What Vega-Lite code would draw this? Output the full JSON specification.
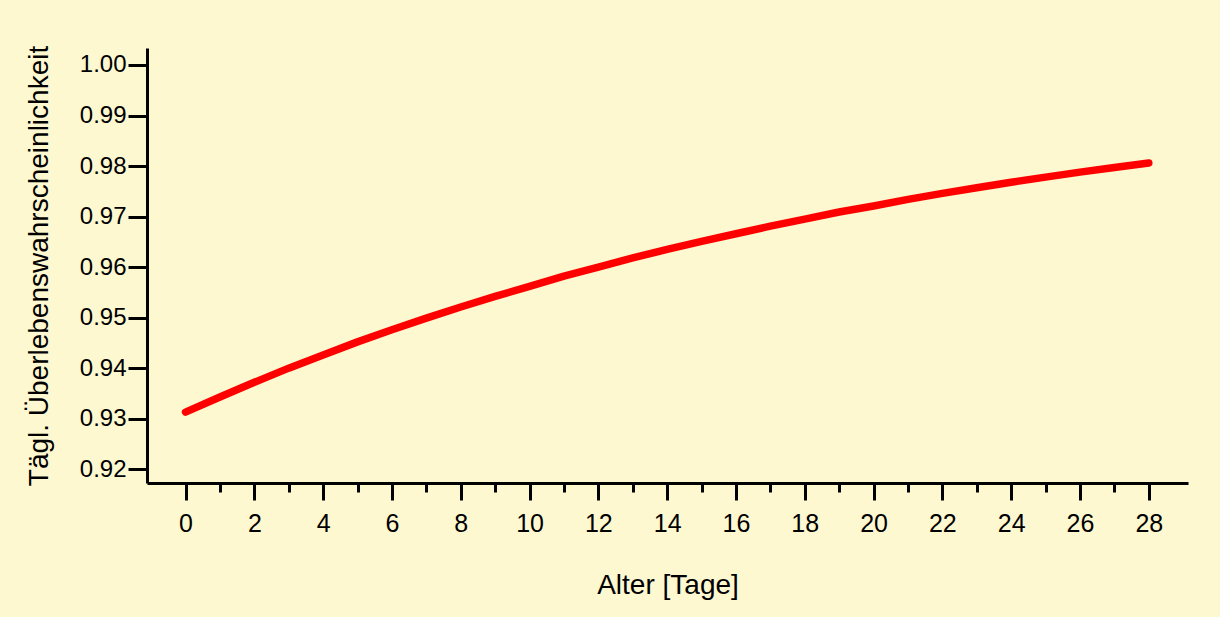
{
  "$schema": "https://vega.github.io/schema/vega-lite/v6.json",
  "autosize": {"type": "none"},
  "width": 1041,
  "height": 435,
  "padding": {"left": 147, "top": 48, "right": 32, "bottom": 134},
  "background": "#FEF8D1",
  "config": {
    "view": {"stroke": null},
    "font": "Liberation Sans",
    "axis": {
      "grid": false,
      "domainColor": "black",
      "domainWidth": 3,
      "tickColor": "black",
      "tickWidth": 3,
      "labelColor": "black",
      "titleColor": "black",
      "titleFontWeight": "normal",
      "labelFont": "Liberation Sans",
      "titleFont": "Liberation Sans"
    }
  },
  "data": {
    "values": [
      {"alter": 0, "p": 0.9313},
      {"alter": 1, "p": 0.9343},
      {"alter": 2, "p": 0.9372},
      {"alter": 3, "p": 0.94},
      {"alter": 4, "p": 0.9426},
      {"alter": 5, "p": 0.9452},
      {"alter": 6, "p": 0.9476},
      {"alter": 7, "p": 0.9499},
      {"alter": 8, "p": 0.9521},
      {"alter": 9, "p": 0.9542},
      {"alter": 10, "p": 0.9562},
      {"alter": 11, "p": 0.9582},
      {"alter": 12, "p": 0.96},
      {"alter": 13, "p": 0.9618},
      {"alter": 14, "p": 0.9635},
      {"alter": 15, "p": 0.9651},
      {"alter": 16, "p": 0.9666},
      {"alter": 17, "p": 0.9681},
      {"alter": 18, "p": 0.9695},
      {"alter": 19, "p": 0.9709},
      {"alter": 20, "p": 0.9721},
      {"alter": 21, "p": 0.9734},
      {"alter": 22, "p": 0.9746},
      {"alter": 23, "p": 0.9757},
      {"alter": 24, "p": 0.9768},
      {"alter": 25, "p": 0.9778},
      {"alter": 26, "p": 0.9788},
      {"alter": 27, "p": 0.9797},
      {"alter": 28, "p": 0.9806}
    ]
  },
  "encoding": {
    "y": {
      "field": "p",
      "type": "quantitative",
      "scale": {"domain": [0.91727, 1.00336], "nice": false, "zero": false},
      "axis": {
        "values": [0.92, 0.93, 0.94, 0.95, 0.96, 0.97, 0.98, 0.99, 1.0],
        "format": ".2f",
        "tickSize": 19,
        "labelPadding": 2,
        "labelFontSize": 24,
        "labelFlush": false,
        "labelOverlap": false,
        "title": "Tägl. Überlebenswahrscheinlichkeit",
        "titleFontSize": 28,
        "titlePadding": 26
      }
    }
  },
  "layer": [
    {
      "mark": {"type": "line", "color": "#FF0000", "strokeWidth": 7.5, "strokeCap": "round", "strokeJoin": "round"},
      "encoding": {
        "x": {
          "field": "alter",
          "type": "quantitative",
          "scale": {"domain": [-1.12, 29.14], "nice": false, "zero": false},
          "axis": {
            "orient": "bottom",
            "values": [0, 2, 4, 6, 8, 10, 12, 14, 16, 18, 20, 22, 24, 26, 28],
            "tickSize": 17,
            "labelFontSize": 25,
            "labelPadding": 11,
            "labelFlush": false,
            "labelOverlap": false,
            "title": "Alter [Tage]",
            "titleFontSize": 28,
            "titlePadding": 35
          }
        }
      }
    },
    {
      "mark": {"type": "line", "opacity": 0},
      "encoding": {
        "x": {
          "field": "alter",
          "type": "quantitative",
          "axis": {
            "orient": "bottom",
            "values": [1, 3, 5, 7, 9, 11, 13, 15, 17, 19, 21, 23, 25, 27],
            "tickSize": 9,
            "labels": false,
            "domain": false,
            "title": null
          }
        }
      }
    }
  ],
  "resolve": {"axis": {"x": "independent"}}
}
